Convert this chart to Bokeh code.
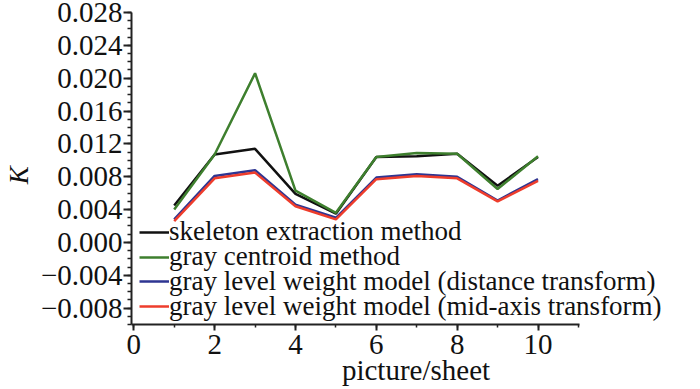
import numpy as np
from bokeh.plotting import figure
from bokeh.models import (ColumnDataSource, Legend, LegendItem, FixedTicker,
                          CustomJSTickFormatter, Range1d)
from bokeh.embed import file_html
from bokeh.resources import INLINE

# ---- data ----
pictures = [1, 2, 3, 4, 5, 6, 7, 8, 9, 10]
skeleton = [0.0045, 0.0107, 0.0114, 0.0059, 0.0035, 0.0104, 0.0105, 0.0108, 0.0069, 0.0104]
centroid = [0.0040, 0.0107, 0.0206, 0.0063, 0.0036, 0.0104, 0.0109, 0.0108, 0.0065, 0.0105]
dist_tf = [0.0028, 0.0081, 0.0088, 0.0046, 0.0030, 0.0079, 0.0083, 0.0080, 0.0051, 0.0077]
mid_tf = [0.0026, 0.0078, 0.0085, 0.0044, 0.0028, 0.0077, 0.0081, 0.0078, 0.0050, 0.0075]

series_names = ["skeleton extraction method",
                "gray centroid method",
                "gray level weight model (distance transform)",
                "gray level weight model (mid-axis transform)"]
series_values = [skeleton, centroid, dist_tf, mid_tf]
series_colors = ["#111111", "#3e7f2e", "#2e3592", "#ee3d2c"]

x_ticks = [0, 2, 4, 6, 8, 10]
y_ticks = [-0.008, -0.004, 0.000, 0.004, 0.008, 0.012, 0.016, 0.020, 0.024, 0.028]

FONT = "Liberation Serif"
AXIS_END = 11.02

p = figure(width=700, height=389, output_backend="svg", toolbar_location=None,
           x_range=Range1d(-0.0565, 14.02), y_range=Range1d(-0.010, 0.028),
           min_border_left=127, min_border_right=0, min_border_top=12, min_border_bottom=65)
p.outline_line_color = None
p.xgrid.visible = False
p.ygrid.visible = False
p.background_fill_color = "white"

renderers = []
for name, vals, col in zip(series_names, series_values, series_colors):
    src = ColumnDataSource(dict(x=pictures, y=vals))
    r = p.line("x", "y", source=src, line_color=col, line_width=2.5)
    renderers.append(r)

# axes
for ax in (p.xaxis[0], p.yaxis[0]):
    ax.axis_line_width = 2
    ax.axis_line_color = "#222222"
    ax.major_tick_line_width = 2
    ax.major_tick_line_color = "#222222"
    ax.minor_tick_line_width = 1.5
    ax.minor_tick_line_color = "#222222"
    ax.major_tick_in = 0
    ax.minor_tick_in = 0
    ax.major_label_text_font = FONT
    ax.major_label_text_font_size = "29px"
    ax.major_label_text_color = "#111111"
    ax.axis_label_text_font = FONT
    ax.axis_label_text_color = "#111111"

p.xaxis.bounds = (-0.0565, AXIS_END)
p.xaxis.ticker = FixedTicker(ticks=x_ticks, minor_ticks=list(range(0, 12)))
p.xaxis.major_tick_out = 6
p.xaxis.minor_tick_out = 3
p.xaxis.major_label_standoff = 4
p.xaxis.axis_label = "picture/sheet"
p.xaxis.axis_label_standoff = -3
p.xaxis.axis_label_text_font_size = "29px"
p.xaxis.axis_label_text_font_style = "normal"

p.yaxis.ticker = FixedTicker(ticks=y_ticks,
                             minor_ticks=[round(v, 4) for v in np.arange(-0.010, 0.0285, 0.001)])
p.yaxis.major_tick_out = 8
p.yaxis.minor_tick_out = 4
p.yaxis.major_label_standoff = 1
p.yaxis.formatter = CustomJSTickFormatter(code="""
    if (Math.abs(tick) < 1e-12) { return '0.000'; }
    return (tick < 0 ? '\\u2212' : '') + Math.abs(tick).toFixed(3);
""")
p.yaxis.axis_label = "K\u00a0\u00a0"
p.yaxis.axis_label_standoff = 4
p.yaxis.axis_label_text_font_size = "27px"
p.yaxis.axis_label_text_font_style = "italic"

# legends (one per row for tight spacing); location = bottom-left of each row
row_centers = [91.7, 66.9, 42.1, 17.3]
for name, r, c in zip(series_names, renderers, row_centers):
    lg = Legend(items=[LegendItem(label=name, renderers=[r])],
                location=(8, c - 15), padding=0, margin=0, spacing=0,
                glyph_width=30, glyph_height=30, label_height=30, label_standoff=0,
                label_text_font=FONT, label_text_font_size="27px", label_text_color="#111111",
                border_line_color=None, background_fill_alpha=0)
    p.add_layout(lg, "center")

open("out.html", "w").write(file_html(p, INLINE))
